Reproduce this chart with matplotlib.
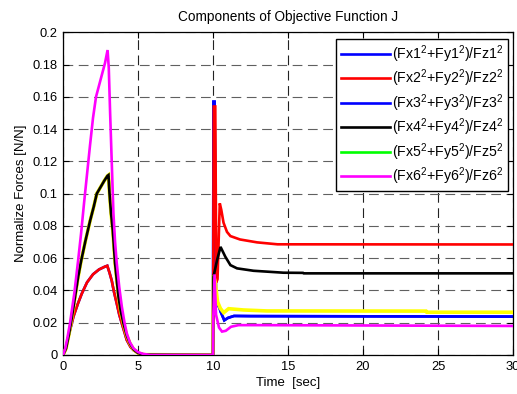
import numpy as np
import matplotlib
matplotlib.use("Agg")
import matplotlib.pyplot as plt
from matplotlib.lines import Line2D
from matplotlib.ticker import FuncFormatter, MultipleLocator

plt.rcParams['font.family'] = ['Liberation Sans', 'DejaVu Sans']
plt.rcParams['mathtext.fontset'] = 'custom'
plt.rcParams['mathtext.rm'] = 'Liberation Sans'
plt.rcParams['mathtext.it'] = 'Liberation Sans:italic'
plt.rcParams['lines.scale_dashes'] = False

# ---- phase 1 (0..10 s): lift-off hump, three groups of legs ----
t_low = [0, 0.15, 0.4, 0.7, 1.0, 1.25, 1.6, 2.0, 2.4, 2.8, 2.95, 3.1, 3.25, 3.4, 3.58,
         3.75, 3.92, 4.1, 4.25, 4.5, 4.7, 5.0, 5.4, 10.0]
y_low = [0, 0.003, 0.013, 0.024, 0.032, 0.038, 0.045, 0.050, 0.053, 0.0548, 0.0553, 0.051,
         0.046, 0.039, 0.032, 0.025, 0.0196, 0.014, 0.0093, 0.005, 0.003, 0.0012, 0.0002, 0]

t_mid = [0, 0.2, 0.4, 0.6, 0.8, 1.0, 1.2, 1.5, 1.8, 2.05, 2.25, 2.5, 2.75, 2.96, 3.03, 3.1,
         3.2, 3.32, 3.47, 3.6, 3.7, 3.85, 4.03, 4.25, 4.47, 4.7, 5.0, 5.4, 10.0]
y_mid = [0, 0.004, 0.013, 0.024, 0.036, 0.048, 0.058, 0.071, 0.083, 0.092, 0.1, 0.104, 0.108,
         0.111, 0.1115, 0.1, 0.088, 0.077, 0.057, 0.045, 0.036, 0.027, 0.0196, 0.012, 0.007,
         0.0035, 0.0012, 0.0002, 0]

t_high = [0, 0.15, 0.3, 0.47, 0.75, 1.0, 1.2, 1.4, 1.6, 1.8, 2.0, 2.2, 2.4, 2.6, 2.8,
          2.97, 3.05, 3.14, 3.25, 3.36, 3.47, 3.58, 3.75, 3.92, 4.1, 4.25, 4.45, 4.7, 5.0,
          5.3, 5.8, 10.0]
y_high = [0, 0.004, 0.011, 0.02, 0.038, 0.058, 0.075, 0.094, 0.112, 0.13, 0.147, 0.16, 0.167,
          0.174, 0.181, 0.189, 0.178, 0.15, 0.119, 0.088, 0.07, 0.057, 0.042, 0.03,
          0.02, 0.0134, 0.008, 0.0041, 0.0018, 0.0008, 0, 0]

# ---- phase 2 (10..30 s) ----
t2_blue = [10.0, 10.03, 10.1, 10.2, 10.38, 10.5, 10.75, 11.0, 11.4, 12.5, 30.0]
y2_blue = [0, 0.157, 0.157, 0.03, 0.031, 0.027, 0.0215, 0.023, 0.0242, 0.0241, 0.0238]

t2_red = [10.0, 10.05, 10.15, 10.22, 10.3, 10.45, 10.55, 10.7, 10.93, 11.16, 11.8, 12.94,
          14.3, 30.0]
y2_red = [0, 0.154, 0.154, 0.045, 0.047, 0.094, 0.09, 0.082, 0.0763, 0.0737, 0.0716, 0.0698,
          0.0686, 0.0685]

t2_black = [10.0, 10.03, 10.27, 10.5, 10.82, 11.16, 11.6, 12.7, 14.7, 16.0, 16.05, 30.0]
y2_black = [0, 0.0485, 0.0588, 0.067, 0.0609, 0.0557, 0.0537, 0.0522, 0.051, 0.0509, 0.0506,
            0.0506]

t2_yellow = [10.0, 10.03, 10.15, 10.3, 10.49, 10.71, 11.04, 12.04, 13.6, 24.2, 24.25, 30.0]
y2_yellow = [0, 0.0495, 0.045, 0.033, 0.0289, 0.0262, 0.0287, 0.0279, 0.0273, 0.0272,
             0.0265, 0.0265]

t2_mag = [10.0, 10.02, 10.1, 10.2, 10.4, 10.6, 10.85, 11.2, 11.7, 13.0, 30.0]
y2_mag = [0, 0.024, 0.05, 0.025, 0.017, 0.0145, 0.015, 0.0175, 0.0185, 0.0185, 0.018]

labels = [r'(Fx1$^2$+Fy1$^2$)/Fz1$^2$', r'(Fx2$^2$+Fy2$^2$)/Fz2$^2$',
          r'(Fx3$^2$+Fy3$^2$)/Fz3$^2$', r'(Fx4$^2$+Fy4$^2$)/Fz4$^2$',
          r'(Fx5$^2$+Fy5$^2$)/Fz5$^2$', r'(Fx6$^2$+Fy6$^2$)/Fz6$^2$']
legend_colors = ['#0000ff', '#ff0000', '#0000ff', '#000000', '#00ff00', '#ff00ff']

# (time, value, plot colour, zorder) for legs 1..6
series = [
    (t_low + t2_blue, y_low + y2_blue, '#0000ff', 2),
    (t_low + t2_red, y_low + y2_red, '#ff0000', 3),
    (t_mid + t2_blue, y_mid + y2_blue, '#0000ff', 2),
    (t_mid + t2_black, y_mid + y2_black, '#000000', 4),
    (t_mid + t2_yellow, y_mid + y2_yellow, '#ffff00', 3),
    (t_high + t2_mag, y_high + y2_mag, '#ff00ff', 5),
]

fig = plt.figure(figsize=(5.17, 3.94), dpi=100)
ax = fig.add_axes([0.1219, 0.099, 0.8704, 0.819])

for t, y, c, z in series:
    lw = 2.6 if c == '#ffff00' else 1.9
    ax.plot(t, y, color=c, linewidth=lw, zorder=z, solid_joinstyle='miter')

ax.set_xlim(0, 30)
ax.set_ylim(0, 0.2)
ax.xaxis.set_major_locator(MultipleLocator(5))
ax.yaxis.set_major_locator(MultipleLocator(0.02))
ax.yaxis.set_major_formatter(FuncFormatter(lambda v, p: '%g' % round(v, 3)))
ax.tick_params(direction='in', top=True, right=True, length=4, width=0.8,
               labelsize=9.3, pad=4)
ax.grid(True, axis='x', color='#222222', linestyle=(0, (7, 4)), linewidth=0.8)
ax.grid(True, axis='y', color='#606060', linestyle=(0, (7, 4)), linewidth=0.8)
ax.set_axisbelow(True)
for s in ax.spines.values():
    s.set_linewidth(0.9)

ax.set_title('Components of Objective Function J', fontsize=9.8, pad=8)
ax.set_xlabel('Time  [sec]', fontsize=9.5, labelpad=3)
ax.set_ylabel('Normalize Forces [N/N]', fontsize=9.5, labelpad=4)

handles = [Line2D([0], [0], color=c, linewidth=1.9) for c in legend_colors]
leg = ax.legend(handles, labels, loc='upper right', bbox_to_anchor=(0.989, 0.979),
                borderaxespad=0, fontsize=10.2, fancybox=False, framealpha=1,
                edgecolor='black', handlelength=3.45, handletextpad=0.2,
                labelspacing=0.2, borderpad=0.3)
leg.get_frame().set_linewidth(1.0)

fig.savefig('out.png', dpi=100)
